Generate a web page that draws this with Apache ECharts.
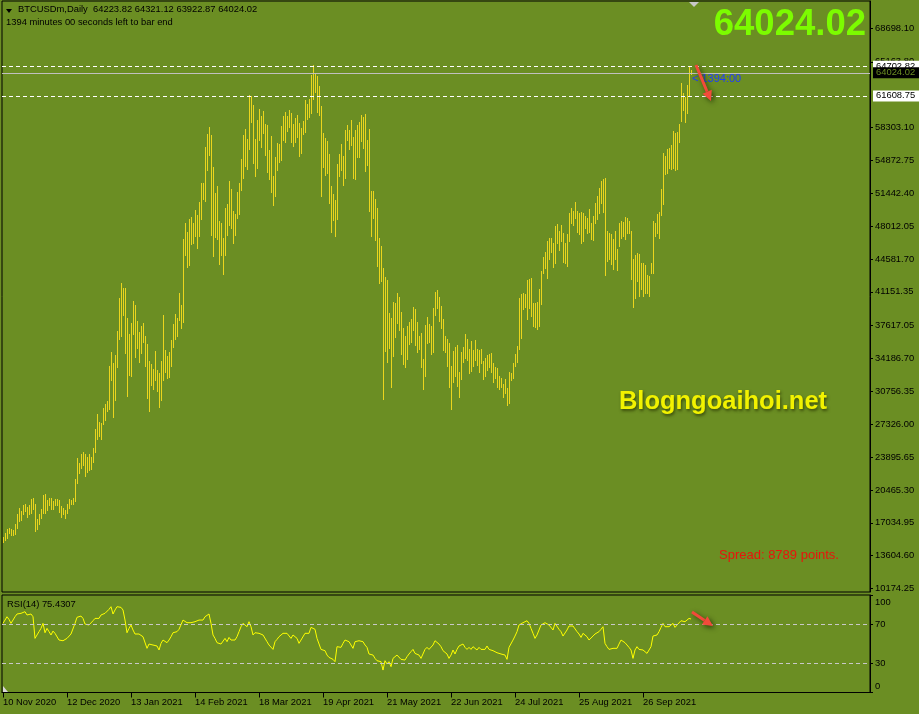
<!DOCTYPE html>
<html>
<head>
<meta charset="utf-8">
<script src="https://cdn.jsdelivr.net/npm/echarts@6/dist/echarts.min.js"></script>
<style>
html,body{margin:0;padding:0;background:#6b8e23;}
#chart{width:919px;height:714px;}
</style>
</head>
<body>
<div id="chart"></div>
<script>
// ---------- DATA ----------
const symbolTitle = 'BTCUSDm,Daily';
const lastBar = { open: 64223.82, high: 64321.12, low: 63922.87, close: 64024.02 };
const startDate = '2020-11-10';           // first daily bar
const xLabels = ['10 Nov 2020','12 Dec 2020','13 Jan 2021','14 Feb 2021','18 Mar 2021','19 Apr 2021',
                 '21 May 2021','22 Jun 2021','24 Jul 2021','25 Aug 2021','26 Sep 2021'];
const priceTicks = [10174.25,13604.60,17034.95,20465.30,23895.65,27326.00,30756.35,34186.70,37617.05,
                    41151.35,44581.70,48012.05,51442.40,54872.75,58303.10,65163.80,68698.10];
const levelHigh = 64702.82;
const levelLow = 61608.75;
const rsiLevels = [30, 70];
const rsiTicks = [0, 30, 70, 100];
const rsiLast = 75.4307;
const spreadPoints = 8789;

const highs = [
15560,16010,16360,16540,16360,16290,16880,17930,18550,18240,
18870,18970,18730,18870,19490,19600,18970,17470,17930,18450,
19910,20020,19390,19670,19600,19320,19490,19490,19390,18800,
18620,18350,18970,19490,19390,19600,21580,23770,23320,24190,
24440,24190,23910,24190,23910,24820,26800,28370,27570,27430,
29060,29410,29760,33410,34880,33690,34530,37070,40510,42040,
41560,41560,38430,36750,37870,40160,39750,38110,36960,37590,
37940,36550,35680,33940,33590,33070,34980,33000,32650,33940,
38700,35080,34460,34880,36090,37760,38810,38390,41000,39750,
46710,48310,47440,48730,49000,48310,49670,49140,50570,52550,
52550,56300,57600,58350,57500,54200,51440,52210,48520,48380,
46740,49870,50290,52730,51860,49560,49250,51550,52480,54990,
57500,58190,57150,61740,61600,60630,57080,59060,60210,59480,
60000,58640,58540,55930,57390,53220,55200,56660,56560,58440,
59480,59900,59480,60110,59790,58640,59340,59580,58750,58230,
58960,61150,60730,61250,63760,64850,63860,63660,62610,60520,
57700,57180,56870,55510,52170,51340,50710,54470,55510,56560,
55300,58020,58540,58020,59060,57290,58020,58540,58850,59580,
59380,59690,56970,58120,51650,51650,50810,49870,46740,45910,
43610,42670,42360,38910,38390,40060,39960,41000,40580,39020,
37350,36550,37590,37970,38290,39540,39330,37970,36550,36830,
34110,37660,38500,37760,37560,39440,41110,41310,40580,39640,
38290,36550,36200,35780,33410,34950,35360,35610,32750,34880,
35360,36720,36200,35150,36020,35090,36130,35150,35090,35150,
33940,34280,34600,34670,34740,33760,33340,33240,32370,32130,
31570,32020,31150,32820,32720,33760,34630,35500,40550,40900,
41000,40900,42390,42460,42640,39960,40030,40100,41490,43330,
44830,45320,46460,46740,46810,46290,48030,48200,47510,48100,
47330,46220,47160,49420,49870,49600,50540,49600,49420,49490,
49420,49070,48900,49770,48380,49070,50470,51160,52030,52730,
52970,53080,47510,47330,47160,46640,47510,45590,48310,48550,
48450,49000,48900,48550,47510,44550,44970,45250,45070,44200,
44130,43920,42880,42810,44130,48550,48380,49250,49490,51930,
55690,55340,56100,56210,56450,57950,57700,57840,58640,62920,
61950,61530,62720,64702.82,64321.12
];
const lows = [
15040,15250,15490,15940,15740,15740,15870,16540,17230,17340,
17930,18280,17650,18000,18100,18450,16190,16360,16880,17540,
18100,18030,18350,18870,18520,18450,18870,18870,18170,17650,
17930,17510,18100,18620,18970,18970,19320,21160,22280,22730,
23040,21930,22350,22560,22630,23390,24440,25760,26110,25760,
27320,27780,28720,28960,31920,28090,29860,33310,36200,36550,
38700,34810,30280,32440,32370,36720,34390,35330,33830,34810,
35920,33410,30040,28720,31430,31050,31950,30800,29130,29860,
31950,32790,32200,32270,33410,35430,36270,36550,38220,37380,
38010,44970,43750,43920,46120,46220,46990,45700,46990,48800,
50810,50640,53900,55400,47090,44900,46920,46640,44030,44970,
42980,44970,47060,48100,47800,46260,47090,48900,49250,51790,
53040,54290,53950,56030,58890,54570,53250,54090,57010,56280,
57740,55410,53630,52940,51580,50220,51160,53880,54710,54920,
57010,56800,57950,58330,56800,56380,56800,57290,55340,55620,
57600,57840,59170,59380,59790,61250,62020,59930,59580,51160,
54190,53350,53560,50430,47400,48660,46990,48760,53250,53880,
52310,53040,57010,56070,56490,53040,52940,55230,55230,56870,
56170,53770,54400,49600,46990,48870,46570,43850,42080,42290,
29930,34980,33830,35290,31220,34460,36440,37900,37170,34670,
33620,33340,34150,35710,35920,37170,35610,34880,35190,33310,
31010,32370,35820,35920,34670,34880,38740,39470,38110,37380,
35090,34880,33410,31220,28930,31740,32370,31330,30180,32060,
33830,34250,34040,32720,32890,33410,34040,33520,32790,33760,
32020,32370,33000,33310,32790,31740,32200,31220,30980,31220,
30210,30630,29340,29590,31950,32200,33410,33830,35220,36300,
39400,39610,38290,39500,38630,37590,37520,37310,37590,39850,
43160,43680,42640,44550,45320,43780,44200,46290,45520,46460,
44310,44130,43850,46460,48310,48100,48900,47400,47160,46290,
46460,47860,47330,47400,46640,46570,48380,48730,49420,50400,
49490,42880,44380,44620,44030,43510,44550,43440,45940,46810,
46990,46640,47330,47330,42530,39610,40550,42290,40720,41420,
40720,41070,41000,40720,43160,43160,46990,47260,46810,49200,
50290,53420,53600,54120,53950,54120,53880,54020,56800,58990,
60140,58890,59860,61608.75,63922.87
];
const rsi = [
70.9,74.3,77.7,75,70.9,71.6,77.7,80.5,80.5,81.2,82.9,82.9,79.5,81.2,80.5,77.7,
55.5,59,62.4,65.8,70.9,61.3,65.8,62.4,59,63,60.7,60.7,53.8,54.5,53.1,51.1,55.5,57.2,60,61.3,
70.9,77.1,77.7,78.4,76,70.2,70.9,69.2,70.9,73.6,76,77.7,76,79.5,80.5,81.2,81.9,85.3,88,80.5,
84.6,88,88.7,87.3,84.6,74.3,61.3,65.8,69.2,64.1,60,60.7,60,59,57.2,56.5,45.3,49.7,48.7,48.7,
49.7,47.7,43.6,50.4,53.8,52.1,51.1,53.8,57.2,61.3,60.7,62.4,64.8,65.8,74.3,72.6,71.6,72.6,71.6,70.9,
72.6,70.9,74.3,76,74.3,77.7,78.4,80.5,70.9,59,55.5,51.1,50.4,49.7,48.7,55.5,52.1,56.5,53.8,53.1,
53.8,57.2,62.4,67.5,70.9,69.2,67.5,72.6,67.5,59,61.3,60.7,60.7,60.7,59,57.2,52.1,48.7,47,44.2,
52.1,54.5,57.2,59,60.7,61.3,60.7,59,55.5,59,60.7,55.5,50.4,
53.8,55.5,60.7,62.4,60.7,66.8,65.8,64.8,55.5,53.8,44.2,45.3,42.9,38.4,36,35,34,31.6,47,48.7,
46.3,50.4,53.8,53.1,52.1,52.1,45.3,52.1,51.1,53.1,54.5,52.1,48.7,46.3,39.5,38.4,38.4,35,32.6,31.6,
31.6,23,32.6,29.2,31.6,26.5,35,36.7,38.4,36.7,34,32.6,33.3,36.7,39.5,41.9,44.2,40.1,39.5,38.4,
35,35,44.2,46.3,44.2,45.3,48.7,53.1,52.1,49.7,47,42.9,41.9,39.5,35,38.4,43.6,39.5,44.2,47.7,
48.7,49.7,46.3,44.2,46.3,44.2,47,45.3,43.6,46.3,44.2,45.3,44.2,47.7,44.2,43.6,42.9,41.9,40.8,41.9,
39.5,40.8,38.4,34,46.3,47.7,53.8,57.9,62.4,69.2,70.9,71.6,70.9,73.6,70.9,65.8,60.7,55.5,59,64.1,
69.2,70.9,71.6,70.9,69.2,70.9,64.1,70.9,69.2,64.8,62.4,57.9,59,64.1,68.2,69.2,68.2,68.2,62.4,60,
56.5,60.7,60.7,57.2,53.8,53.8,57.9,60,60.7,62.4,64.8,67.5,50.4,47,44.2,43.6,45.3,44.2,45.3,49.7,
53.8,53.1,51.1,53.1,46.3,43.6,35,43.6,47,44.2,42.9,43.6,41.9,40.1,41.9,47,57.9,59,59,62.4,
66.8,70.9,67.5,66.8,67.5,68.2,70.9,66.8,69.2,70.2,73.6,71.6,72.6,74.3,76,75.43
];

// ---------- STYLE ----------
const BG = '#6b8e23';
const BAR = '#ebd51e';
const FONT = '"Liberation Sans", Arial, sans-serif';
const FS = 9.4;
const SLOTS = 434;   // visible daily slots incl. right-hand shift area

// category axis: one entry per day
const MONTHS = ['Jan','Feb','Mar','Apr','May','Jun','Jul','Aug','Sep','Oct','Nov','Dec'];
const days = [];
{
  const d0 = new Date(startDate + 'T00:00:00Z');
  for (let i = 0; i < SLOTS; i++) {
    const d = new Date(d0.getTime() + i * 86400000);
    days.push(d.getUTCDate() + ' ' + MONTHS[d.getUTCMonth()] + ' ' + d.getUTCFullYear());
  }
}
const showLbl = (idx, val) => xLabels.indexOf(val) >= 0;
const barData = highs.map((h, i) => [i, lows[i], h]);

function arrow(x1, y1, x2, y2) {
  const dx = x2 - x1, dy = y2 - y1, L = Math.hypot(dx, dy);
  const ux = dx / L, uy = dy / L, nx = -uy, ny = ux;
  const hl = 10, hw = 5;
  const bx = x2 - ux * hl, by = y2 - uy * hl;
  const sh = { shadowBlur: 5, shadowColor: 'rgba(20,30,0,0.7)', shadowOffsetX: 2, shadowOffsetY: 2 };
  return [
    { type: 'line', z: 50, shape: { x1: x1, y1: y1, x2: bx, y2: by },
      style: Object.assign({ stroke: '#f24b3a', lineWidth: 3 }, sh) },
    { type: 'polygon', z: 50, shape: { points: [[x2, y2], [bx + nx * hw, by + ny * hw], [bx - nx * hw, by - ny * hw]] },
      style: Object.assign({ fill: '#f24b3a' }, sh) }
  ];
}

const chart = echarts.init(document.getElementById('chart'), null, { renderer: 'canvas' });
const option = {
  animation: false,
  backgroundColor: BG,
  textStyle: { fontFamily: FONT },
  grid: [
    { left: 2, right: 49, top: 1, height: 591, show: true, borderColor: '#000', borderWidth: 1, backgroundColor: 'transparent' },
    { left: 2, right: 49, top: 595, height: 97.5, show: true, borderColor: '#000', borderWidth: 1, backgroundColor: 'transparent' }
  ],
  xAxis: [
    { type: 'category', gridIndex: 0, data: days, show: false, boundaryGap: true },
    { type: 'category', gridIndex: 1, data: days, boundaryGap: true,
      axisLine: { show: true, lineStyle: { color: '#000' } },
      axisTick: { show: true, alignWithLabel: true, interval: showLbl, length: 5, lineStyle: { color: '#000' } },
      axisLabel: { interval: showLbl, align: 'left', margin: 5, color: '#000', fontFamily: FONT, fontSize: FS } }
  ],
  yAxis: [
    { type: 'value', gridIndex: 0, position: 'right', min: 9809, max: 71517, scale: true,
      splitLine: { show: false },
      axisLine: { show: true, lineStyle: { color: '#000' } },
      axisTick: { show: true, length: 3, customValues: priceTicks, lineStyle: { color: '#000' } },
      axisLabel: { customValues: priceTicks, margin: 5, color: '#000', fontFamily: FONT, fontSize: FS,
                   formatter: v => v.toFixed(2) } },
    { type: 'value', gridIndex: 1, position: 'right', min: 0, max: 100,
      splitLine: { show: false },
      axisLine: { show: true, lineStyle: { color: '#000' } },
      axisTick: { show: true, length: 3, customValues: rsiTicks, lineStyle: { color: '#000' } },
      axisLabel: { customValues: rsiTicks, margin: 5, color: '#000', fontFamily: FONT, fontSize: FS,
                   formatter: v => (v === 100 ? '{t|100}' : v === 0 ? '{b|0}' : String(v)),
                   rich: { t: { padding: [3, 0, 0, 0], fontSize: FS, fontFamily: FONT, color: '#000' },
                           b: { padding: [0, 0, 2, 0], fontSize: FS, fontFamily: FONT, color: '#000' } },
                   verticalAlignMinLabel: 'bottom', verticalAlignMaxLabel: 'top' } }
  ],
  series: [
    { type: 'custom', name: 'BTCUSDm', xAxisIndex: 0, yAxisIndex: 0, data: barData, clip: true,
      encode: { x: 0, y: [1, 2] },
      renderItem: function (params, api) {
        const i = api.value(0);
        const top = api.coord([i, api.value(2)]);
        const bot = api.coord([i, api.value(1)]);
        const x = Math.round(top[0]) + 0.5;
        return { type: 'line', shape: { x1: x, y1: Math.round(top[1]), x2: x, y2: Math.round(bot[1]) + 1 },
                 style: { stroke: BAR, lineWidth: 1 } };
      },
      markLine: {
        silent: true, symbol: ['none', 'none'], animation: false,
        label: { show: true, position: 'end', distance: 3, fontFamily: FONT, fontSize: FS,
                 padding: [1, 4, 0, 3], lineHeight: 10 },
        data: [
          { yAxis: levelHigh, lineStyle: { color: '#ffffff', type: [4, 3], width: 1 },
            label: { formatter: levelHigh.toFixed(2), backgroundColor: '#ffffff', color: '#000' } },
          { yAxis: lastBar.close, lineStyle: { color: '#c0c0c0', type: 'solid', width: 1 },
            label: { formatter: lastBar.close.toFixed(2), backgroundColor: '#000000', color: '#6b8e23' } },
          { yAxis: levelLow, lineStyle: { color: '#ffffff', type: [4, 3], width: 1 },
            label: { formatter: levelLow.toFixed(2), backgroundColor: '#ffffff', color: '#000' } }
        ]
      }
    },
    { type: 'line', name: 'RSI(14)', xAxisIndex: 1, yAxisIndex: 1, data: rsi, symbol: 'none',
      lineStyle: { color: '#ffff00', width: 1 }, itemStyle: { color: '#ffff00' },
      markLine: {
        silent: true, symbol: ['none', 'none'], label: { show: false },
        lineStyle: { color: '#c8c8c8', type: [4, 3], width: 1 },
        data: rsiLevels.map(v => ({ yAxis: v }))
      }
    }
  ],
  graphic: [
    { type: 'polygon', z: 40, shape: { points: [[6, 9], [12, 9], [9, 13]] }, style: { fill: '#000' } },
    { type: 'text', z: 40, left: 18, top: 5, style: { text: symbolTitle + '  ' + [lastBar.open, lastBar.high, lastBar.low, lastBar.close].map(v => v.toFixed(2)).join(' '),
      fill: '#000', font: FS + 'px ' + FONT } },
    { type: 'text', z: 40, left: 6, top: 18, style: { text: '1394 minutes 00 seconds left to bar end', fill: '#000', font: FS + 'px ' + FONT } },
    { type: 'text', z: 40, x: 866, y: 25, style: { text: lastBar.close.toFixed(2), fill: '#7cfc00', font: 'bold 36.5px ' + FONT,
      align: 'right', verticalAlign: 'middle' } },
    { type: 'polygon', z: 40, shape: { points: [[689, 2], [699, 2], [694, 7]] }, style: { fill: '#c8c8c8' } },
    { type: 'text', z: 40, x: 692, y: 79, style: { text: '< 1394:00', fill: '#1f3cff', font: '11px ' + FONT, verticalAlign: 'middle' } },
    { type: 'text', z: 40, x: 723, y: 402, style: { text: 'Blogngoaihoi.net', fill: '#f2f200', font: 'bold 25.5px ' + FONT,
      align: 'center', verticalAlign: 'middle', textShadowColor: 'rgba(40,50,0,0.7)', textShadowBlur: 3, textShadowOffsetX: 1, textShadowOffsetY: 2 } },
    { type: 'text', z: 40, x: 719, y: 555, style: { text: 'Spread: ' + spreadPoints + ' points.', fill: '#e8140c', font: '13px ' + FONT, verticalAlign: 'middle' } },
    { type: 'text', z: 40, x: 7, y: 604, style: { text: 'RSI(14) ' + rsiLast.toFixed(4), fill: '#000', font: FS + 'px ' + FONT, verticalAlign: 'middle' } },
    { type: 'polygon', z: 40, shape: { points: [[3, 686], [3, 692], [8, 692]] }, style: { fill: '#d8d8d8' } }
  ].concat(arrow(696, 65, 711, 101), arrow(692, 612, 713, 626))
};
chart.setOption(option);
</script>
</body>
</html>
